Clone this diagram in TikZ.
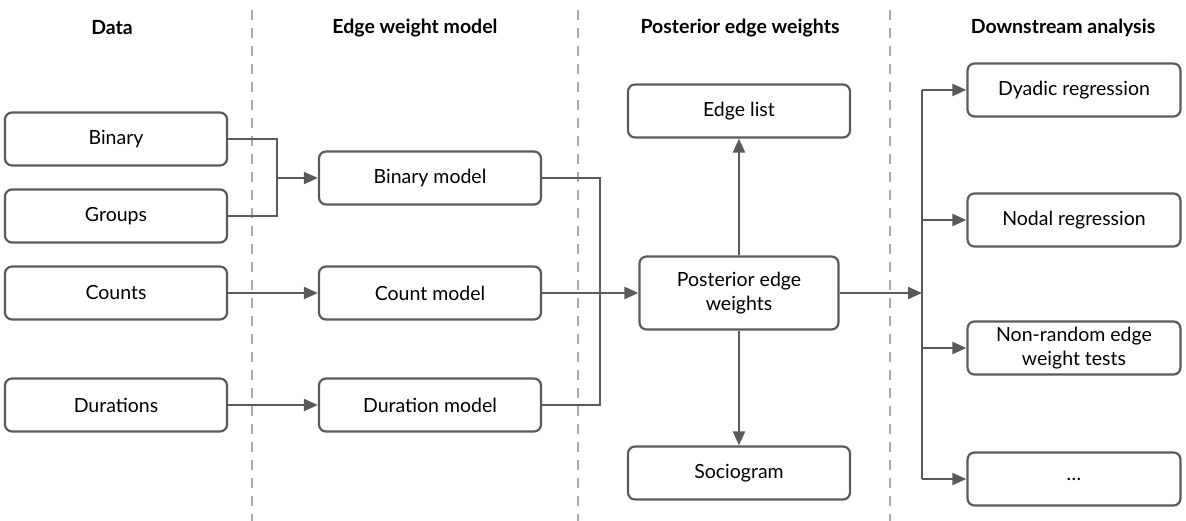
\documentclass[tikz,border=0pt]{standalone}
\usepackage{fontspec}
\setmainfont{Lato}
\usetikzlibrary{arrows.meta}
\definecolor{linec}{HTML}{5A5A5A}
\definecolor{sepc}{HTML}{ABABAB}
\begin{document}
\begin{tikzpicture}[x=1pt,y=-1pt,
 box/.style={draw=linec, line width=2.2pt, rounded corners=7pt, minimum width=222pt, minimum height=53pt, align=center, font=\fontsize{19.5}{23.5}\selectfont, inner sep=0pt, text=black},
 conn/.style={draw=linec, line width=2.2pt},
 arr/.style={conn, -{Triangle[length=14pt,width=12pt]}},
 sepline/.style={draw=sepc, line width=2pt, dash pattern=on 10pt off 8pt},
 title/.style={font=\fontsize{19.5}{23.5}\selectfont\bfseries, text=black}]
\useasboundingbox (0,0) rectangle (1186,521);
% separators
\draw[sepline] (252,10) -- (252,521);
\draw[sepline] (578,10) -- (578,521);
\draw[sepline] (890,10) -- (890,521);
% titles
\node[title] (t1) at (112,28) {Data};
\node[title] (t2) at (415,28) {Edge weight model};
\node[title] (t3) at (740,28) {Posterior edge weights};
\node[title] (t4) at (1063,28) {Downstream analysis};
% data
\node[box] (bin) at (116,139) {Binary};
\node[box] (grp) at (116,216) {Groups};
\node[box] (cnt) at (116,293) {Counts};
\node[box] (dur) at (116,405) {Durations};
% models
\node[box] (binm) at (430,178) {Binary model};
\node[box] (cntm) at (430,293) {Count model};
\node[box] (durm) at (430,405) {Duration model};
% posterior
\node[box] (el) at (739,111) {Edge list};
\node[box, minimum width=199pt, minimum height=73pt] (pew) at (739,293) {Posterior edge\\weights};
\node[box] (soc) at (739,473) {Sociogram};
% downstream
\node[box, minimum width=213pt] (dy) at (1074,90) {Dyadic regression};
\node[box, minimum width=213pt] (nod) at (1074,220) {Nodal regression};
\node[box, minimum width=213pt] (nrt) at (1074,348) {Non-random edge\\weight tests};
\node[box, minimum width=213pt] (etc) at (1074,479) {\ldots};
% connectors
\coordinate (j1) at (277,178);
\draw[conn] (bin.east) -| (j1);
\draw[conn] (grp.east) -| (j1);
\draw[arr] (j1) -- (binm.west);
\draw[arr] (cnt.east) -- (cntm.west);
\draw[arr] (dur.east) -- (durm.west);
\coordinate (j2) at (600,293);
\draw[conn] (binm.east) -| (j2);
\draw[conn] (durm.east) -| (j2);
\draw[arr] (cntm.east) -- (pew.west);
\draw[arr] (pew.north) -- (el.south);
\draw[arr] (pew.south) -- (soc.north);
\coordinate (j3) at (922,293);
\draw[arr] (pew.east) -- (j3);
\draw[conn] (j3 |- dy.west) -- (j3 |- etc.west);
\draw[arr] (j3 |- dy.west) -- (dy.west);
\draw[arr] (j3 |- nod.west) -- (nod.west);
\draw[arr] (j3 |- nrt.west) -- (nrt.west);
\draw[arr] (j3 |- etc.west) -- (etc.west);
\end{tikzpicture}
\end{document}
